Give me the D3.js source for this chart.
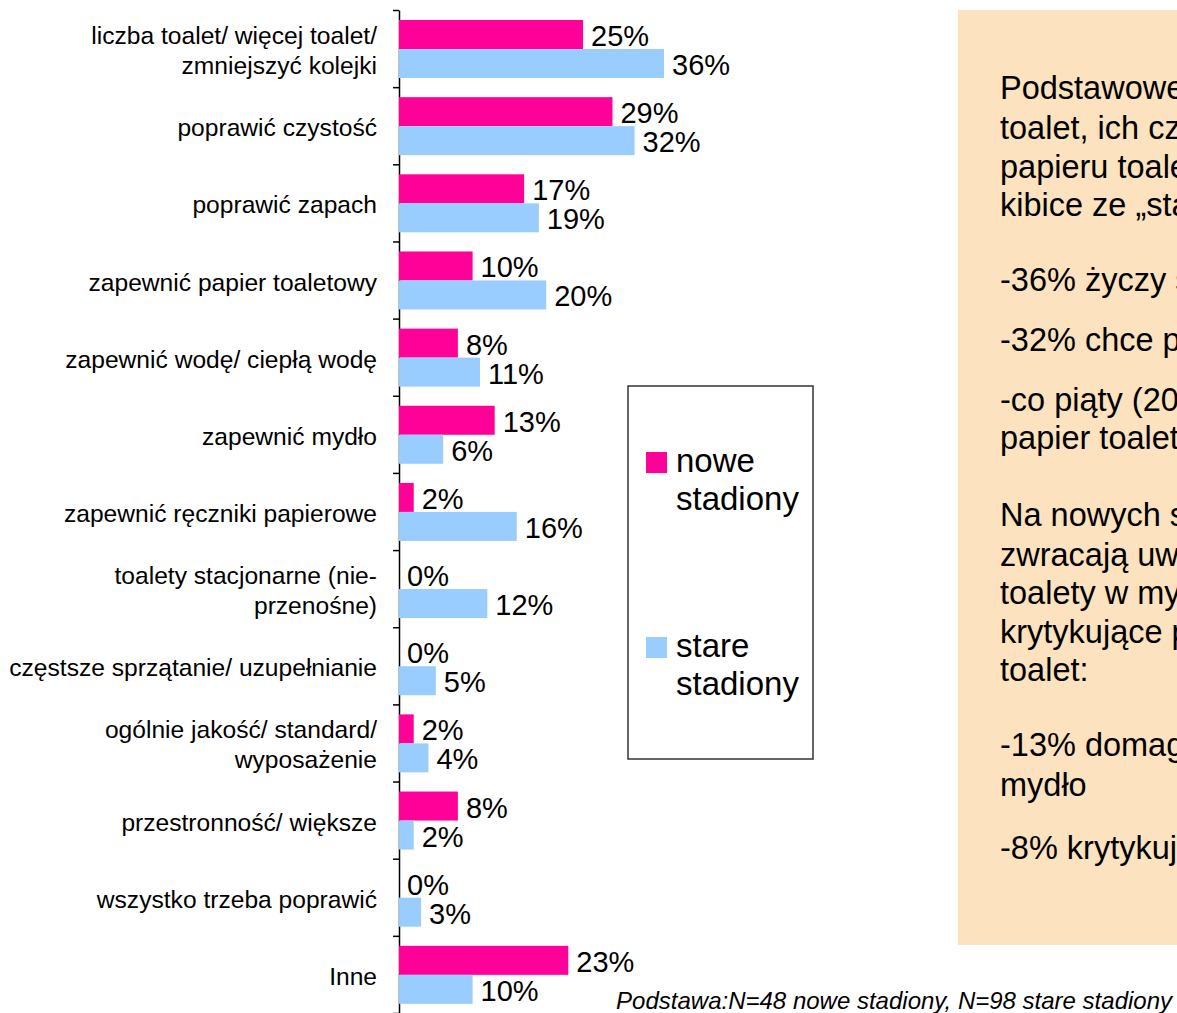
<!DOCTYPE html>
<html>
<head>
<meta charset="utf-8">
<script src="https://cdn.jsdelivr.net/npm/d3@7"></script>
<style>
  html, body { margin: 0; padding: 0; overflow: hidden; background: #fff; }
  svg { display: block; font-family: "Liberation Sans", Arial, sans-serif; }
</style>
</head>
<body>
<div class="chart"></div>
<script>
// categories, top to bottom ("\n" = line break in the label)
const categories = [
  "liczba toalet/ więcej toalet/\nzmniejszyć kolejki",
  "poprawić czystość",
  "poprawić zapach",
  "zapewnić papier toaletowy",
  "zapewnić wodę/ ciepłą wodę",
  "zapewnić mydło",
  "zapewnić ręczniki papierowe",
  "toalety stacjonarne (nie-\nprzenośne)",
  "częstsze sprzątanie/ uzupełnianie",
  "ogólnie jakość/ standard/\nwyposażenie",
  "przestronność/ większe",
  "wszystko trzeba poprawić",
  "Inne"
];
const seriesNames = ["nowe stadiony", "stare stadiony"];
const nowe = [25, 29, 17, 10, 8, 13, 2, 0, 0, 2, 8, 0, 23];
const stare = [36, 32, 19, 20, 11, 6, 16, 12, 5, 4, 2, 3, 10];
const colors = ["#ff0099", "#99ccff"];

// the note runs past the right edge of the picture, as in the original slide
const noteLines = [
  "Podstawowe oczekiwania dotyczą liczby",
  "toalet, ich czystości, zapachu oraz",
  "papieru toaletowego. Szczególnie",
  "kibice ze „starych” stadionów:",
  "-36% życzy sobie więcej toalet",
  "-32% chce poprawy czystości",
  "-co piąty (20%) chciałby, by zapewniono",
  "papier toaletowy",
  "Na nowych stadionach kibice",
  "zwracają uwagę na wyposażenie",
  "toalety w mydło, a także",
  "krytykujące przestronność",
  "toalet:",
  "-13% domaga się, aby zapewnić",
  "mydło",
  "-8% krytykuje przestronność toalet"
];
// vertical centre of each note line
const noteY = [88, 128, 167, 205, 280, 340, 400, 438, 515, 555, 593, 632, 670, 745, 785, 848];
const footnote = "Podstawa:N=48 nowe stadiony, N=98 stare stadiony";

const W = 1177, H = 1013;
const axisX = 399, plotTop = 10, plotBottom = 1013;

const svg = d3.select(".chart")
  .append("svg")
  .attr("width", W)
  .attr("height", H);

const rows = categories.map((c, i) => ({ cat: c, values: [nowe[i], stare[i]] }));

// scales
const y = d3.scaleBand().domain(categories).range([plotTop, plotBottom]);
const yInner = d3.scaleBand().domain(seriesNames).range([10, 68]);
const x = d3.scaleLinear().domain([0, 36]).range([0, 265]);

// axis with ticks on the band edges
const yEdges = d3.scaleLinear().domain([0, categories.length]).range([plotTop, plotBottom]);
svg.append("g")
  .attr("transform", `translate(${axisX},0)`)
  .call(d3.axisLeft(yEdges).tickValues(d3.range(categories.length + 1)).tickFormat("").tickSize(6).tickSizeOuter(0))
  .call(g => g.selectAll("path, line").attr("stroke", "#000").attr("stroke-width", 1.5));

// category labels
const lab = svg.append("g").selectAll("text")
  .data(categories)
  .join("text")
  .attr("text-anchor", "end")
  .attr("font-size", 24.6)
  .attr("fill", "#000");
lab.each(function (d) {
  const lines = d.split("\n");
  const cy = y(d) + y.bandwidth() / 2 + 2;
  const lh = 30;
  d3.select(this).selectAll("tspan")
    .data(lines)
    .join("tspan")
    .attr("x", 377)
    .attr("y", (l, i) => cy + 8.5 + (i - (lines.length - 1) / 2) * lh)
    .text(l => l);
});

// bars
const groups = svg.append("g")
  .attr("transform", `translate(${axisX},0)`)
  .selectAll("g")
  .data(rows)
  .join("g")
  .attr("transform", d => `translate(0,${y(d.cat)})`);

groups.selectAll("rect")
  .data(d => d.values.map((v, i) => ({ s: seriesNames[i], v, i })))
  .join("rect")
  .attr("x", 0)
  .attr("y", d => yInner(d.s))
  .attr("width", d => x(d.v))
  .attr("height", yInner.bandwidth())
  .attr("fill", d => colors[d.i]);

groups.selectAll("text")
  .data(d => d.values.map((v, i) => ({ s: seriesNames[i], v, i })))
  .join("text")
  .attr("x", d => x(d.v) + 8)
  .attr("y", d => yInner(d.s) + yInner.bandwidth() - 3)
  .attr("font-size", 29)
  .attr("fill", "#000")
  .text(d => d.v + "%");

// legend
const legend = svg.append("g");
legend.append("rect")
  .attr("x", 628).attr("y", 386)
  .attr("width", 185).attr("height", 373)
  .attr("fill", "#fff")
  .attr("stroke", "#333")
  .attr("stroke-width", 1.5);
const legendY = [452, 637];
seriesNames.forEach((s, i) => {
  legend.append("rect")
    .attr("x", 646).attr("y", legendY[i])
    .attr("width", 21).attr("height", 21)
    .attr("fill", colors[i]);
  const words = s.split(" ");
  legend.append("text")
    .attr("font-size", 33)
    .attr("fill", "#000")
    .selectAll("tspan")
    .data(words)
    .join("tspan")
    .attr("x", 676)
    .attr("y", (w, j) => legendY[i] + 20 + j * 38)
    .text(w => w);
});

// note box on the right
svg.append("rect")
  .attr("x", 958).attr("y", 10)
  .attr("width", 240).attr("height", 935)
  .attr("fill", "#fde2bf");
svg.append("g").selectAll("text")
  .data(noteLines)
  .join("text")
  .attr("x", 1000)
  .attr("y", (d, i) => noteY[i] + 11)
  .attr("font-size", 32.5)
  .attr("fill", "#000")
  .text(d => d);

// footnote
svg.append("text")
  .attr("x", 1172)
  .attr("y", 1009)
  .attr("text-anchor", "end")
  .attr("font-size", 24)
  .attr("font-style", "italic")
  .attr("fill", "#000")
  .text(footnote);
</script>
</body>
</html>
